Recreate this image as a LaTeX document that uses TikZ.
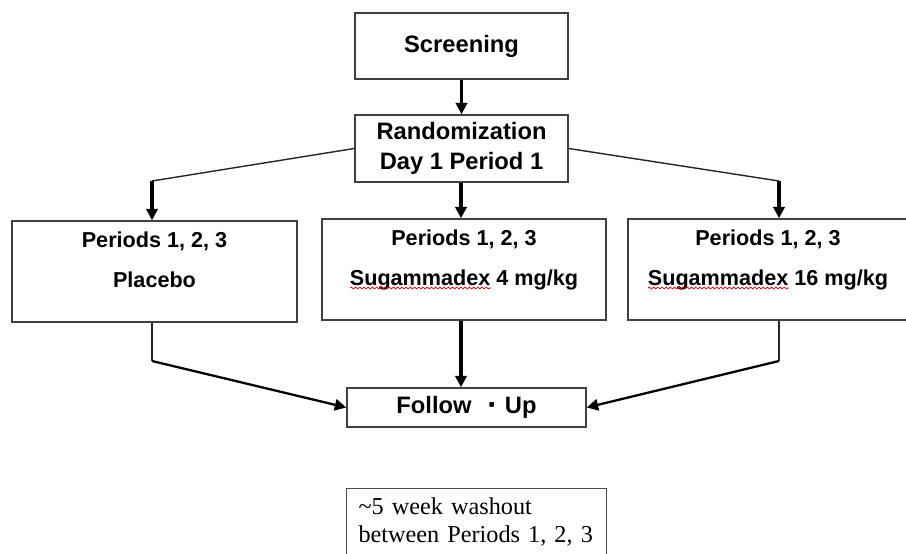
\documentclass[tikz,border=0pt]{standalone}
\usepackage{fontspec}
\setmainfont{Liberation Serif}
\newfontfamily\arialfont{Liberation Sans}
\usetikzlibrary{arrows.meta, positioning, decorations.pathmorphing}

\begin{document}
\begin{tikzpicture}[>={Triangle[length=6.5pt, width=6.5pt]}, x=0.02cm, y=-0.02cm,
    stepbox/.style={draw=black!75, line width=0.9pt, fill=white, align=center,
                    font=\arialfont\bfseries\fontsize{13.5}{17}\selectfont},
    armbox/.style={draw=black!75, line width=0.9pt, fill=white, align=center,
                   minimum height=2.02cm,
                   font=\arialfont\bfseries\fontsize{12.3}{22.8}\selectfont},
    link/.style={line width=0.8pt, black!85},
    feed/.style={->, line width=2pt, black},
    spellwave/.style={red!85!black, line width=0.4pt, decorate,
                      decoration={snake, amplitude=0.55pt, segment length=2.4pt}}]
  \useasboundingbox (0,0) rectangle (906,554);

  % Screening and randomization
  \node[stepbox, minimum width=4.26cm, minimum height=1.32cm] (screen) at (461.5,46) {Screening};
  \node[stepbox, minimum width=4.26cm, minimum height=1.34cm] (rand) at (461.5,148.5)
    {Randomization\\Day 1 Period 1};

  % Treatment arms
  \node[armbox, minimum width=5.7cm] (placebo) at (154.5,271.5)
    {Periods 1, 2, 3\\Placebo\rule[-13.7pt]{0pt}{0pt}};
  \node[armbox, minimum width=5.68cm] (low) at (464,269.5)
    {Periods 1, 2, 3\\Sugammadex 4 mg/kg\rule[-13.7pt]{0pt}{0pt}};
  \node[armbox, minimum width=5.6cm] (high) at (768,269.5)
    {Periods 1, 2, 3\\Sugammadex 16 mg/kg\rule[-13.7pt]{0pt}{0pt}};

  % Spell-check marks under the drug name
  \draw[spellwave] (350,288) -- (491,288);
  \draw[spellwave] (648,288) -- (789,288);

  % Follow-up
  \node[stepbox, minimum width=4.78cm, minimum height=0.78cm] (follow) at (466.5,407.5)
    {Follow\hspace{9pt}\raisebox{-1.2pt}{\fontsize{18}{18}\selectfont·}\hspace{4pt}Up};

  % Washout note
  \node[draw=black!70, line width=0.7pt, anchor=north west, inner xsep=6.8pt,
        inner ysep=5.2pt, text width=5.2cm-13.6pt, align=left,
        font=\fontsize{13.8}{16}\selectfont] (washout) at (346,488)
    {\textasciitilde5 week washout\\between Periods 1, 2, 3};

  % Corners of the connectors
  \coordinate (pl-in) at (152,181);
  \coordinate (hi-in) at (779,181);
  \coordinate (pl-out) at (152,361);
  \coordinate (hi-out) at (779,361);

  % Screening -> randomization -> arms
  \draw[feed] (screen) -- (rand);
  \draw[link] (rand.west) -- (pl-in);
  \draw[feed] (pl-in) -- (pl-in |- placebo.north);
  \draw[link] (rand.east) -- (hi-in);
  \draw[feed] (hi-in) -- (hi-in |- high.north);
  \draw[feed] (rand.south -| 461,0) -- (low.north -| 461,0);

  % Arms -> follow-up
  \draw[link] (pl-out |- placebo.south) -- (pl-out);
  \draw[->, line width=1.3pt] (pl-out) -- (follow.west);
  \draw[feed] (low.south -| 461,0) -- (follow.north -| 461,0);
  \draw[link] (hi-out |- high.south) -- (hi-out);
  \draw[->, line width=1.3pt] (hi-out) -- (follow.east);
\end{tikzpicture}
\end{document}
